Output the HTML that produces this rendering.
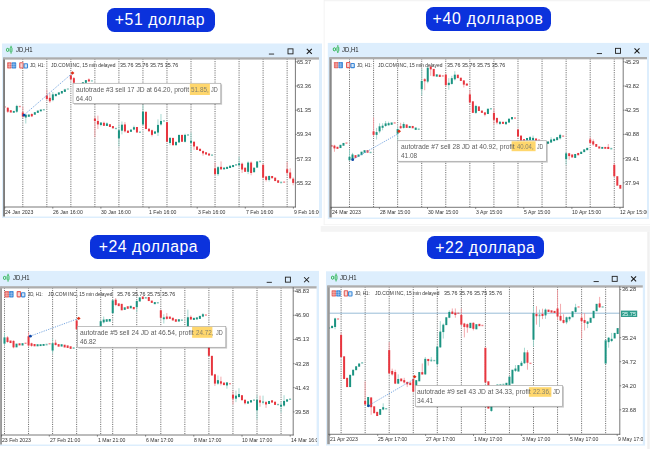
<!DOCTYPE html>
<html><head><meta charset="utf-8"><title>JD trades</title>
<style>
html,body{margin:0;padding:0;background:#fff;}
body{width:650px;height:449px;position:relative;overflow:hidden;font-family:"Liberation Sans",sans-serif;}
svg{position:absolute;left:0;top:0;}
.g{stroke:#3c3c3c;stroke-width:0.75;stroke-dasharray:1.1 1.17;}
.cw{position:absolute;overflow:hidden;will-change:opacity;}
.t{position:absolute;white-space:nowrap;font-size:20px;line-height:23px;transform-origin:0 0;font-family:"Liberation Sans",sans-serif;}
.b{position:absolute;box-sizing:border-box;background:#0b32dc;color:#fff;border-radius:7.5px;text-align:left;white-space:nowrap;font-size:15.8px;font-family:"Liberation Sans",sans-serif;}
</style></head><body>
<svg width="650" height="449" viewBox="0 0 650 449">
<rect x="2" y="43.5" width="320" height="174.5" fill="#ddeefd"/>
<rect x="3.1" y="57.8" width="315.9" height="158.7" fill="#fff"/>
<clipPath id="cp0"><rect x="3.1" y="57.8" width="292.29999999999995" height="149.2"/></clipPath>
<g clip-path="url(#cp0)">
<line x1="22.80" y1="58.8" x2="22.80" y2="207" class="g"/>
<line x1="46.83" y1="58.8" x2="46.83" y2="207" class="g"/>
<line x1="70.86" y1="58.8" x2="70.86" y2="207" class="g"/>
<line x1="94.89" y1="58.8" x2="94.89" y2="207" class="g"/>
<line x1="118.92" y1="58.8" x2="118.92" y2="207" class="g"/>
<line x1="142.95" y1="58.8" x2="142.95" y2="207" class="g"/>
<line x1="166.98" y1="58.8" x2="166.98" y2="207" class="g"/>
<line x1="191.01" y1="58.8" x2="191.01" y2="207" class="g"/>
<line x1="215.04" y1="58.8" x2="215.04" y2="207" class="g"/>
<line x1="239.07" y1="58.8" x2="239.07" y2="207" class="g"/>
<line x1="263.10" y1="58.8" x2="263.10" y2="207" class="g"/>
<line x1="287.13" y1="58.8" x2="287.13" y2="207" class="g"/>
<rect x="3.78" y="106.27" width="2.0" height="1.39" fill="#e7363f" opacity="0.6"/>
<line x1="7.78" y1="107.08" x2="7.78" y2="112.87" stroke="#f09398" stroke-width="0.8"/>
<rect x="6.78" y="107.78" width="2.0" height="3.94" fill="#e7363f" opacity="1"/>
<rect x="9.78" y="110.21" width="2.0" height="2.32" fill="#e7363f" opacity="1"/>
<rect x="12.79" y="110.90" width="2.0" height="1.86" fill="#1b9381" opacity="1"/>
<line x1="16.79" y1="104.77" x2="16.79" y2="112.87" stroke="#8fcfc5" stroke-width="0.8"/>
<rect x="15.79" y="105.93" width="2.0" height="5.79" fill="#1b9381" opacity="1"/>
<rect x="18.80" y="105.81" width="2.0" height="1.39" fill="#e7363f" opacity="0.6"/>
<line x1="22.80" y1="106.62" x2="22.80" y2="117.96" stroke="#f09398" stroke-width="0.8"/>
<rect x="21.80" y="112.41" width="2.0" height="4.17" fill="#e7363f" opacity="1"/>
<line x1="25.80" y1="114.03" x2="25.80" y2="123.52" stroke="#8fcfc5" stroke-width="0.8"/>
<rect x="24.80" y="114.72" width="2.0" height="2.78" fill="#1b9381" opacity="1"/>
<rect x="27.81" y="114.49" width="2.0" height="2.31" fill="#1b9381" opacity="1"/>
<line x1="31.81" y1="113.33" x2="31.81" y2="117.04" stroke="#f09398" stroke-width="0.8"/>
<rect x="30.81" y="114.03" width="2.0" height="2.31" fill="#e7363f" opacity="1"/>
<rect x="33.82" y="112.18" width="2.0" height="2.55" fill="#1b9381" opacity="1"/>
<rect x="36.82" y="110.56" width="2.0" height="2.31" fill="#1b9381" opacity="1"/>
<rect x="39.82" y="109.51" width="2.0" height="1.86" fill="#1b9381" opacity="1"/>
<rect x="42.83" y="109.05" width="2.0" height="1.39" fill="#1b9381" opacity="0.6"/>
<line x1="46.83" y1="89.72" x2="46.83" y2="100.14" stroke="#f09398" stroke-width="0.8"/>
<rect x="45.83" y="95.51" width="2.0" height="3.47" fill="#e7363f" opacity="1"/>
<line x1="49.84" y1="93.19" x2="49.84" y2="102.92" stroke="#f09398" stroke-width="0.8"/>
<rect x="48.84" y="97.82" width="2.0" height="3.47" fill="#e7363f" opacity="1"/>
<line x1="52.84" y1="92.04" x2="52.84" y2="101.30" stroke="#8fcfc5" stroke-width="0.8"/>
<rect x="51.84" y="94.35" width="2.0" height="5.79" fill="#1b9381" opacity="1"/>
<rect x="54.84" y="93.89" width="2.0" height="2.31" fill="#1b9381" opacity="1"/>
<rect x="57.85" y="92.38" width="2.0" height="2.32" fill="#1b9381" opacity="1"/>
<rect x="60.85" y="90.99" width="2.0" height="2.55" fill="#1b9381" opacity="1"/>
<rect x="63.86" y="89.84" width="2.0" height="2.09" fill="#1b9381" opacity="1"/>
<rect x="63.86" y="88.91" width="2.0" height="1.63" fill="#1b9381" opacity="0.6"/>
<rect x="66.86" y="88.45" width="2.0" height="1.16" fill="#1b9381" opacity="0.6"/>
<line x1="70.86" y1="74.68" x2="70.86" y2="80.46" stroke="#f09398" stroke-width="0.8"/>
<rect x="69.86" y="75.37" width="2.0" height="3.94" fill="#e7363f" opacity="1"/>
<line x1="73.87" y1="76.99" x2="73.87" y2="83.94" stroke="#f09398" stroke-width="0.8"/>
<rect x="72.87" y="78.15" width="2.0" height="4.63" fill="#e7363f" opacity="1"/>
<rect x="81.88" y="82.20" width="2.0" height="1.86" fill="#1b9381" opacity="1"/>
<rect x="84.88" y="80.11" width="2.0" height="2.78" fill="#1b9381" opacity="1"/>
<line x1="88.89" y1="78.38" x2="88.89" y2="81.16" stroke="#f09398" stroke-width="0.8"/>
<rect x="87.89" y="79.42" width="2.0" height="2.09" fill="#e7363f" opacity="1"/>
<rect x="90.89" y="80.34" width="2.0" height="1.16" fill="#1b9381" opacity="0.6"/>
<line x1="94.90" y1="116.34" x2="94.90" y2="137.18" stroke="#f09398" stroke-width="0.8"/>
<rect x="93.90" y="118.66" width="2.0" height="2.31" fill="#e7363f" opacity="1"/>
<line x1="97.90" y1="115.65" x2="97.90" y2="129.07" stroke="#f09398" stroke-width="0.8"/>
<rect x="96.90" y="120.97" width="2.0" height="3.47" fill="#e7363f" opacity="1"/>
<line x1="100.90" y1="122.82" x2="100.90" y2="126.30" stroke="#8fcfc5" stroke-width="0.8"/>
<rect x="99.90" y="122.47" width="2.0" height="2.55" fill="#1b9381" opacity="1"/>
<line x1="103.91" y1="121.67" x2="103.91" y2="125.83" stroke="#f09398" stroke-width="0.8"/>
<rect x="102.91" y="122.82" width="2.0" height="3.01" fill="#e7363f" opacity="1"/>
<line x1="106.91" y1="122.36" x2="106.91" y2="125.60" stroke="#8fcfc5" stroke-width="0.8"/>
<rect x="105.91" y="123.40" width="2.0" height="2.55" fill="#1b9381" opacity="1"/>
<rect x="108.92" y="124.21" width="2.0" height="2.78" fill="#e7363f" opacity="1"/>
<rect x="111.92" y="126.06" width="2.0" height="2.31" fill="#e7363f" opacity="1"/>
<rect x="114.92" y="127.80" width="2.0" height="1.39" fill="#1b9381" opacity="0.6"/>
<line x1="118.93" y1="124.44" x2="118.93" y2="146.44" stroke="#8fcfc5" stroke-width="0.8"/>
<rect x="117.93" y="130.23" width="2.0" height="8.10" fill="#1b9381" opacity="1"/>
<line x1="121.93" y1="121.44" x2="121.93" y2="134.40" stroke="#8fcfc5" stroke-width="0.8"/>
<rect x="120.93" y="124.68" width="2.0" height="6.02" fill="#1b9381" opacity="1"/>
<line x1="124.94" y1="122.13" x2="124.94" y2="132.55" stroke="#f09398" stroke-width="0.8"/>
<rect x="123.94" y="124.44" width="2.0" height="6.94" fill="#e7363f" opacity="1"/>
<rect x="126.94" y="130.58" width="2.0" height="2.32" fill="#e7363f" opacity="1"/>
<rect x="129.94" y="129.54" width="2.0" height="2.31" fill="#1b9381" opacity="1"/>
<line x1="133.95" y1="125.60" x2="133.95" y2="130.23" stroke="#8fcfc5" stroke-width="0.8"/>
<rect x="132.95" y="127.22" width="2.0" height="2.31" fill="#1b9381" opacity="1"/>
<rect x="135.95" y="126.99" width="2.0" height="5.56" fill="#e7363f" opacity="1"/>
<rect x="138.96" y="131.50" width="2.0" height="1.39" fill="#1b9381" opacity="0.6"/>
<line x1="142.96" y1="104.77" x2="142.96" y2="125.60" stroke="#8fcfc5" stroke-width="0.8"/>
<rect x="141.96" y="111.71" width="2.0" height="12.73" fill="#1b9381" opacity="1"/>
<rect x="144.96" y="111.71" width="2.0" height="17.36" fill="#e7363f" opacity="1"/>
<rect x="147.97" y="128.61" width="2.0" height="2.78" fill="#e7363f" opacity="1"/>
<line x1="151.97" y1="129.54" x2="151.97" y2="136.48" stroke="#f09398" stroke-width="0.8"/>
<rect x="150.97" y="130.23" width="2.0" height="4.63" fill="#e7363f" opacity="1"/>
<rect x="153.98" y="131.39" width="2.0" height="2.31" fill="#1b9381" opacity="1"/>
<line x1="157.98" y1="119.35" x2="157.98" y2="136.02" stroke="#8fcfc5" stroke-width="0.8"/>
<rect x="156.98" y="124.91" width="2.0" height="7.64" fill="#1b9381" opacity="1"/>
<line x1="160.98" y1="114.03" x2="160.98" y2="125.60" stroke="#8fcfc5" stroke-width="0.8"/>
<rect x="159.98" y="120.97" width="2.0" height="3.47" fill="#1b9381" opacity="1"/>
<rect x="162.99" y="120.39" width="2.0" height="1.16" fill="#1b9381" opacity="0.6"/>
<rect x="165.99" y="122.13" width="2.0" height="19.68" fill="#e7363f" opacity="1"/>
<line x1="170.00" y1="137.18" x2="170.00" y2="145.28" stroke="#8fcfc5" stroke-width="0.8"/>
<rect x="169.00" y="137.87" width="2.0" height="5.09" fill="#1b9381" opacity="1"/>
<rect x="172.00" y="137.87" width="2.0" height="7.41" fill="#e7363f" opacity="1"/>
<rect x="175.00" y="141.81" width="2.0" height="3.47" fill="#1b9381" opacity="1"/>
<rect x="178.01" y="134.86" width="2.0" height="7.64" fill="#1b9381" opacity="1"/>
<rect x="181.01" y="134.86" width="2.0" height="6.94" fill="#e7363f" opacity="1"/>
<line x1="185.02" y1="133.70" x2="185.02" y2="142.50" stroke="#8fcfc5" stroke-width="0.8"/>
<rect x="184.02" y="134.86" width="2.0" height="6.94" fill="#1b9381" opacity="1"/>
<rect x="187.02" y="134.28" width="2.0" height="1.39" fill="#1b9381" opacity="0.6"/>
<line x1="191.02" y1="132.55" x2="191.02" y2="152.22" stroke="#8fcfc5" stroke-width="0.8"/>
<rect x="190.02" y="140.76" width="2.0" height="2.09" fill="#1b9381" opacity="1"/>
<line x1="194.03" y1="141.11" x2="194.03" y2="149.91" stroke="#f09398" stroke-width="0.8"/>
<rect x="193.03" y="141.81" width="2.0" height="4.63" fill="#e7363f" opacity="1"/>
<rect x="196.03" y="146.44" width="2.0" height="3.47" fill="#e7363f" opacity="1"/>
<rect x="199.04" y="148.75" width="2.0" height="2.31" fill="#e7363f" opacity="1"/>
<line x1="203.04" y1="150.37" x2="203.04" y2="155.69" stroke="#f09398" stroke-width="0.8"/>
<rect x="202.04" y="151.06" width="2.0" height="2.31" fill="#e7363f" opacity="1"/>
<rect x="205.04" y="152.22" width="2.0" height="2.31" fill="#e7363f" opacity="1"/>
<rect x="208.05" y="153.49" width="2.0" height="2.09" fill="#e7363f" opacity="1"/>
<rect x="211.05" y="154.42" width="2.0" height="1.39" fill="#1b9381" opacity="0.6"/>
<line x1="215.06" y1="162.56" x2="215.06" y2="175.29" stroke="#f09398" stroke-width="0.8"/>
<rect x="214.06" y="168.34" width="2.0" height="5.79" fill="#e7363f" opacity="1"/>
<line x1="218.06" y1="166.03" x2="218.06" y2="175.98" stroke="#8fcfc5" stroke-width="0.8"/>
<rect x="217.06" y="167.19" width="2.0" height="6.94" fill="#1b9381" opacity="1"/>
<line x1="221.06" y1="161.40" x2="221.06" y2="169.50" stroke="#f09398" stroke-width="0.8"/>
<rect x="220.06" y="166.84" width="2.0" height="2.55" fill="#e7363f" opacity="1"/>
<rect x="223.07" y="167.53" width="2.0" height="1.86" fill="#1b9381" opacity="1"/>
<rect x="226.07" y="166.84" width="2.0" height="2.09" fill="#1b9381" opacity="1"/>
<rect x="229.08" y="165.68" width="2.0" height="2.32" fill="#1b9381" opacity="1"/>
<rect x="232.08" y="164.98" width="2.0" height="2.09" fill="#1b9381" opacity="1"/>
<rect x="235.08" y="164.06" width="2.0" height="1.63" fill="#1b9381" opacity="0.6"/>
<line x1="239.09" y1="156.77" x2="239.09" y2="165.33" stroke="#8fcfc5" stroke-width="0.8"/>
<rect x="238.09" y="163.36" width="2.0" height="1.86" fill="#1b9381" opacity="1"/>
<line x1="242.09" y1="162.56" x2="242.09" y2="172.97" stroke="#f09398" stroke-width="0.8"/>
<rect x="241.09" y="163.71" width="2.0" height="5.79" fill="#e7363f" opacity="1"/>
<rect x="244.10" y="167.65" width="2.0" height="4.17" fill="#e7363f" opacity="1"/>
<line x1="248.10" y1="161.40" x2="248.10" y2="174.13" stroke="#8fcfc5" stroke-width="0.8"/>
<rect x="247.10" y="162.56" width="2.0" height="9.26" fill="#1b9381" opacity="1"/>
<line x1="251.10" y1="161.40" x2="251.10" y2="175.29" stroke="#f09398" stroke-width="0.8"/>
<rect x="250.10" y="162.56" width="2.0" height="10.42" fill="#e7363f" opacity="1"/>
<rect x="253.11" y="167.65" width="2.0" height="4.63" fill="#1b9381" opacity="1"/>
<rect x="256.11" y="161.40" width="2.0" height="6.25" fill="#1b9381" opacity="1"/>
<rect x="259.12" y="160.82" width="2.0" height="1.39" fill="#1b9381" opacity="0.6"/>
<line x1="263.12" y1="163.71" x2="263.12" y2="178.76" stroke="#f09398" stroke-width="0.8"/>
<rect x="262.12" y="164.87" width="2.0" height="12.73" fill="#e7363f" opacity="1"/>
<line x1="266.12" y1="175.98" x2="266.12" y2="181.54" stroke="#f09398" stroke-width="0.8"/>
<rect x="265.12" y="176.44" width="2.0" height="3.47" fill="#e7363f" opacity="1"/>
<line x1="269.13" y1="175.52" x2="269.13" y2="181.54" stroke="#8fcfc5" stroke-width="0.8"/>
<rect x="268.13" y="175.98" width="2.0" height="3.94" fill="#1b9381" opacity="1"/>
<rect x="271.13" y="175.98" width="2.0" height="2.31" fill="#e7363f" opacity="1"/>
<rect x="274.14" y="177.60" width="2.0" height="3.47" fill="#e7363f" opacity="1"/>
<rect x="277.14" y="180.26" width="2.0" height="2.55" fill="#e7363f" opacity="1"/>
<rect x="280.14" y="181.65" width="2.0" height="1.63" fill="#1b9381" opacity="0.6"/>
<rect x="283.15" y="181.42" width="2.0" height="1.39" fill="#e7363f" opacity="0.6"/>
<line x1="287.15" y1="161.90" x2="287.15" y2="174.67" stroke="#f09398" stroke-width="0.8"/>
<rect x="286.15" y="169.20" width="2.0" height="3.65" fill="#e7363f" opacity="1"/>
<line x1="290.16" y1="168.28" x2="290.16" y2="179.23" stroke="#f09398" stroke-width="0.8"/>
<rect x="289.16" y="172.48" width="2.0" height="5.84" fill="#e7363f" opacity="1"/>
<line x1="293.16" y1="177.41" x2="293.16" y2="185.26" stroke="#f09398" stroke-width="0.8"/>
<rect x="292.16" y="178.69" width="2.0" height="4.20" fill="#e7363f" opacity="1"/>
<line x1="23.8" y1="115.2" x2="72.5" y2="73" stroke="#5590d8" stroke-width="0.8" stroke-dasharray="1.2 1.2"/>
<circle cx="24.1" cy="115.2" r="1.4" fill="#0d47a8"/>
<path d="M70.6 73 L72.5 71.3 L74.4 73 L72.5 74.7Z" fill="#e02d14"/>
</g>
<rect x="3.1" y="57.8" width="1.9" height="158.7" fill="#7c7c7c"/>
<rect x="3.1" y="57.3" width="315.9" height="2.3" fill="#adadad"/>
<line x1="295.4" y1="58.3" x2="295.4" y2="207.4" stroke="#555" stroke-width="0.8"/>
<line x1="4.1" y1="207" x2="295.79999999999995" y2="207" stroke="#555" stroke-width="0.8"/>
<line x1="295.4" y1="61.8" x2="296.79999999999995" y2="61.8" stroke="#555" stroke-width="0.7"/>
<line x1="295.4" y1="86" x2="296.79999999999995" y2="86" stroke="#555" stroke-width="0.7"/>
<line x1="295.4" y1="110.2" x2="296.79999999999995" y2="110.2" stroke="#555" stroke-width="0.7"/>
<line x1="295.4" y1="134.4" x2="296.79999999999995" y2="134.4" stroke="#555" stroke-width="0.7"/>
<line x1="295.4" y1="158.6" x2="296.79999999999995" y2="158.6" stroke="#555" stroke-width="0.7"/>
<line x1="295.4" y1="182.8" x2="296.79999999999995" y2="182.8" stroke="#555" stroke-width="0.7"/>
<line x1="4.8" y1="207" x2="4.8" y2="208.6" stroke="#555" stroke-width="0.7"/>
<line x1="52.8" y1="207" x2="52.8" y2="208.6" stroke="#555" stroke-width="0.7"/>
<line x1="100.9" y1="207" x2="100.9" y2="208.6" stroke="#555" stroke-width="0.7"/>
<line x1="149.0" y1="207" x2="149.0" y2="208.6" stroke="#555" stroke-width="0.7"/>
<line x1="197.2" y1="207" x2="197.2" y2="208.6" stroke="#555" stroke-width="0.7"/>
<line x1="245.3" y1="207" x2="245.3" y2="208.6" stroke="#555" stroke-width="0.7"/>
<line x1="293.4" y1="207" x2="293.4" y2="208.6" stroke="#555" stroke-width="0.7"/>
<rect x="74.0" y="84.3" width="148.10000000000002" height="20.40000000000001" fill="#000" opacity="0.22"/>
<rect x="73" y="83.3" width="147.8" height="20.10000000000001" fill="#fff" stroke="#a6a6a6" stroke-width="0.7"/>
<rect x="189.85" y="83.7" width="20.05000000000001" height="11.299999999999997" fill="#ffd76d"/>
<g stroke="#22b24a" fill="none"><rect x="6.5" y="48.4" width="2.2" height="3.0" rx="1.0" stroke-width="1.0"/><rect x="10.15" y="47.45" width="1.8" height="4.6" rx="0.8" stroke-width="0.9"/><line x1="11.05" y1="45.8" x2="11.05" y2="47.1" stroke-width="1.0"/><line x1="11.05" y1="52.4" x2="11.05" y2="53.6" stroke-width="1.0"/></g>
<line x1="268.9" y1="54.050000000000004" x2="274.1" y2="54.050000000000004" stroke="#222" stroke-width="0.9"/>
<rect x="288.0" y="48.85" width="5" height="5" fill="none" stroke="#222" stroke-width="0.9"/>
<path d="M306.8 48.95 L311.8 53.95 M311.8 48.95 L306.8 53.95" stroke="#1a1a1a" stroke-width="1.05" fill="none"/>
<rect x="7.1" y="62.199999999999996" width="4.55" height="6.3" fill="#e76d69" rx="0.7"/><rect x="11.649999999999999" y="62.199999999999996" width="4.55" height="6.3" fill="#3f8bd9" rx="0.7"/><path d="M7.699999999999999 64.39999999999999 H15.6 M7.699999999999999 66.39999999999999 H15.6 M9.399999999999999 62.8 V67.89999999999999 M13.899999999999999 62.8 V67.89999999999999" stroke="#fff" stroke-width="0.55" opacity="0.55" fill="none"/>
<rect x="19.750000000000004" y="62.74999999999999" width="3.4" height="5.2" fill="#f9d5d3" stroke="#e35f5a" stroke-width="1.1" rx="0.5"/><rect x="24.1" y="63.8" width="3.4" height="4.15" fill="#d3e6f9" stroke="#3a88d8" stroke-width="1.1" rx="0.5"/>
<rect x="327.8" y="42.9" width="321.2" height="176.1" fill="#ddeefd"/>
<rect x="329.4" y="57.5" width="317.6" height="160.0" fill="#fff"/>
<clipPath id="cp1"><rect x="329.4" y="57.5" width="293.80000000000007" height="149.8"/></clipPath>
<g clip-path="url(#cp1)">
<line x1="349.50" y1="58.5" x2="349.50" y2="207.3" class="g"/>
<line x1="373.57" y1="58.5" x2="373.57" y2="207.3" class="g"/>
<line x1="397.64" y1="58.5" x2="397.64" y2="207.3" class="g"/>
<line x1="421.71" y1="58.5" x2="421.71" y2="207.3" class="g"/>
<line x1="445.78" y1="58.5" x2="445.78" y2="207.3" class="g"/>
<line x1="469.85" y1="58.5" x2="469.85" y2="207.3" class="g"/>
<line x1="493.92" y1="58.5" x2="493.92" y2="207.3" class="g"/>
<line x1="517.99" y1="58.5" x2="517.99" y2="207.3" class="g"/>
<line x1="542.06" y1="58.5" x2="542.06" y2="207.3" class="g"/>
<line x1="566.13" y1="58.5" x2="566.13" y2="207.3" class="g"/>
<line x1="590.20" y1="58.5" x2="590.20" y2="207.3" class="g"/>
<line x1="614.27" y1="58.5" x2="614.27" y2="207.3" class="g"/>
<rect x="330.45" y="144.93" width="2.0" height="1.86" fill="#e7363f" opacity="1"/>
<line x1="334.45" y1="144.81" x2="334.45" y2="151.76" stroke="#f09398" stroke-width="0.8"/>
<rect x="333.45" y="145.62" width="2.0" height="2.78" fill="#e7363f" opacity="1"/>
<rect x="336.46" y="146.78" width="2.0" height="2.09" fill="#e7363f" opacity="1"/>
<rect x="339.47" y="144.81" width="2.0" height="3.24" fill="#1b9381" opacity="1"/>
<rect x="342.48" y="142.96" width="2.0" height="2.78" fill="#1b9381" opacity="1"/>
<rect x="345.49" y="142.38" width="2.0" height="1.39" fill="#e7363f" opacity="0.6"/>
<line x1="373.57" y1="117.50" x2="373.57" y2="136.02" stroke="#f09398" stroke-width="0.8"/>
<rect x="372.57" y="131.39" width="2.0" height="3.47" fill="#e7363f" opacity="1"/>
<line x1="376.58" y1="127.92" x2="376.58" y2="139.49" stroke="#8fcfc5" stroke-width="0.8"/>
<rect x="375.58" y="132.08" width="2.0" height="2.78" fill="#1b9381" opacity="1"/>
<line x1="379.59" y1="123.29" x2="379.59" y2="133.24" stroke="#8fcfc5" stroke-width="0.8"/>
<rect x="378.59" y="126.30" width="2.0" height="5.09" fill="#1b9381" opacity="1"/>
<line x1="382.60" y1="123.29" x2="382.60" y2="130.23" stroke="#8fcfc5" stroke-width="0.8"/>
<rect x="381.60" y="125.71" width="2.0" height="2.09" fill="#1b9381" opacity="1"/>
<line x1="385.61" y1="120.97" x2="385.61" y2="126.76" stroke="#8fcfc5" stroke-width="0.8"/>
<rect x="384.61" y="123.40" width="2.0" height="2.55" fill="#1b9381" opacity="1"/>
<line x1="388.62" y1="121.67" x2="388.62" y2="125.60" stroke="#8fcfc5" stroke-width="0.8"/>
<rect x="387.62" y="123.17" width="2.0" height="2.09" fill="#1b9381" opacity="1"/>
<rect x="390.63" y="122.47" width="2.0" height="2.32" fill="#1b9381" opacity="1"/>
<rect x="393.63" y="122.24" width="2.0" height="1.39" fill="#e7363f" opacity="0.6"/>
<line x1="397.64" y1="126.76" x2="397.64" y2="140.65" stroke="#8fcfc5" stroke-width="0.8"/>
<rect x="396.64" y="129.07" width="2.0" height="4.63" fill="#1b9381" opacity="1"/>
<line x1="400.65" y1="122.82" x2="400.65" y2="128.61" stroke="#f09398" stroke-width="0.8"/>
<rect x="399.65" y="126.18" width="2.0" height="2.09" fill="#e7363f" opacity="1"/>
<line x1="403.66" y1="122.13" x2="403.66" y2="128.61" stroke="#8fcfc5" stroke-width="0.8"/>
<rect x="402.66" y="123.98" width="2.0" height="3.94" fill="#1b9381" opacity="1"/>
<rect x="405.67" y="124.44" width="2.0" height="3.47" fill="#e7363f" opacity="1"/>
<rect x="408.68" y="125.95" width="2.0" height="2.09" fill="#1b9381" opacity="1"/>
<rect x="411.69" y="125.95" width="2.0" height="2.32" fill="#e7363f" opacity="1"/>
<rect x="414.70" y="127.57" width="2.0" height="2.32" fill="#1b9381" opacity="1"/>
<rect x="417.71" y="128.49" width="2.0" height="1.39" fill="#1b9381" opacity="0.6"/>
<line x1="421.72" y1="68.89" x2="421.72" y2="95.51" stroke="#8fcfc5" stroke-width="0.8"/>
<rect x="420.72" y="80.93" width="2.0" height="8.33" fill="#1b9381" opacity="1"/>
<line x1="424.73" y1="78.15" x2="424.73" y2="90.19" stroke="#f09398" stroke-width="0.8"/>
<rect x="423.73" y="79.19" width="2.0" height="2.09" fill="#e7363f" opacity="1"/>
<line x1="427.73" y1="66.57" x2="427.73" y2="83.24" stroke="#8fcfc5" stroke-width="0.8"/>
<rect x="426.73" y="67.73" width="2.0" height="13.89" fill="#1b9381" opacity="1"/>
<line x1="430.74" y1="65.42" x2="430.74" y2="75.83" stroke="#f09398" stroke-width="0.8"/>
<rect x="429.74" y="66.57" width="2.0" height="2.78" fill="#e7363f" opacity="1"/>
<rect x="432.75" y="68.89" width="2.0" height="7.41" fill="#e7363f" opacity="1"/>
<rect x="435.76" y="74.33" width="2.0" height="2.32" fill="#1b9381" opacity="1"/>
<rect x="438.77" y="74.68" width="2.0" height="2.31" fill="#e7363f" opacity="1"/>
<rect x="441.78" y="75.25" width="2.0" height="1.39" fill="#e7363f" opacity="0.6"/>
<line x1="445.79" y1="73.52" x2="445.79" y2="86.25" stroke="#f09398" stroke-width="0.8"/>
<rect x="444.79" y="74.68" width="2.0" height="10.42" fill="#e7363f" opacity="1"/>
<line x1="448.80" y1="78.15" x2="448.80" y2="89.72" stroke="#8fcfc5" stroke-width="0.8"/>
<rect x="447.80" y="82.78" width="2.0" height="2.31" fill="#1b9381" opacity="1"/>
<line x1="451.81" y1="75.83" x2="451.81" y2="84.63" stroke="#8fcfc5" stroke-width="0.8"/>
<rect x="450.81" y="78.15" width="2.0" height="5.79" fill="#1b9381" opacity="1"/>
<line x1="454.81" y1="71.20" x2="454.81" y2="80.46" stroke="#8fcfc5" stroke-width="0.8"/>
<rect x="453.81" y="74.68" width="2.0" height="4.63" fill="#1b9381" opacity="1"/>
<rect x="456.82" y="74.68" width="2.0" height="3.47" fill="#e7363f" opacity="1"/>
<rect x="459.83" y="77.69" width="2.0" height="3.24" fill="#e7363f" opacity="1"/>
<line x1="463.84" y1="80.00" x2="463.84" y2="87.41" stroke="#f09398" stroke-width="0.8"/>
<rect x="462.84" y="80.46" width="2.0" height="4.17" fill="#e7363f" opacity="1"/>
<rect x="465.85" y="83.59" width="2.0" height="1.86" fill="#e7363f" opacity="1"/>
<line x1="349.50" y1="149.82" x2="349.50" y2="160.70" stroke="#8fcfc5" stroke-width="0.8"/>
<rect x="348.50" y="156.77" width="2.0" height="3.47" fill="#1b9381" opacity="1"/>
<line x1="352.51" y1="152.83" x2="352.51" y2="160.24" stroke="#8fcfc5" stroke-width="0.8"/>
<rect x="351.51" y="154.45" width="2.0" height="5.32" fill="#1b9381" opacity="1"/>
<rect x="354.52" y="155.15" width="2.0" height="2.78" fill="#e7363f" opacity="1"/>
<rect x="357.53" y="154.45" width="2.0" height="2.31" fill="#1b9381" opacity="1"/>
<rect x="360.54" y="151.68" width="2.0" height="3.47" fill="#1b9381" opacity="1"/>
<rect x="363.55" y="150.17" width="2.0" height="2.55" fill="#1b9381" opacity="1"/>
<rect x="366.55" y="150.17" width="2.0" height="2.55" fill="#e7363f" opacity="1"/>
<rect x="369.56" y="151.79" width="2.0" height="1.39" fill="#1b9381" opacity="0.6"/>
<rect x="465.85" y="83.82" width="2.0" height="1.63" fill="#e7363f" opacity="0.6"/>
<line x1="469.86" y1="89.72" x2="469.86" y2="103.61" stroke="#f09398" stroke-width="0.8"/>
<rect x="468.86" y="94.35" width="2.0" height="8.10" fill="#e7363f" opacity="1"/>
<rect x="471.87" y="101.30" width="2.0" height="11.57" fill="#e7363f" opacity="1"/>
<line x1="475.88" y1="104.77" x2="475.88" y2="114.03" stroke="#8fcfc5" stroke-width="0.8"/>
<rect x="474.88" y="105.93" width="2.0" height="6.94" fill="#1b9381" opacity="1"/>
<rect x="477.89" y="106.39" width="2.0" height="4.63" fill="#e7363f" opacity="1"/>
<rect x="480.90" y="110.56" width="2.0" height="2.31" fill="#e7363f" opacity="1"/>
<line x1="484.90" y1="111.94" x2="484.90" y2="116.34" stroke="#f09398" stroke-width="0.8"/>
<rect x="483.90" y="112.41" width="2.0" height="2.31" fill="#e7363f" opacity="1"/>
<rect x="486.91" y="108.70" width="2.0" height="5.32" fill="#1b9381" opacity="1"/>
<rect x="489.92" y="108.12" width="2.0" height="1.39" fill="#1b9381" opacity="0.6"/>
<line x1="493.93" y1="108.24" x2="493.93" y2="124.44" stroke="#f09398" stroke-width="0.8"/>
<rect x="492.93" y="112.87" width="2.0" height="6.94" fill="#e7363f" opacity="1"/>
<line x1="496.94" y1="117.50" x2="496.94" y2="124.44" stroke="#f09398" stroke-width="0.8"/>
<rect x="495.94" y="117.96" width="2.0" height="4.63" fill="#e7363f" opacity="1"/>
<line x1="499.95" y1="120.97" x2="499.95" y2="124.91" stroke="#8fcfc5" stroke-width="0.8"/>
<rect x="498.95" y="121.78" width="2.0" height="2.09" fill="#1b9381" opacity="1"/>
<rect x="501.96" y="121.78" width="2.0" height="2.09" fill="#e7363f" opacity="1"/>
<rect x="504.97" y="121.78" width="2.0" height="2.55" fill="#1b9381" opacity="1"/>
<rect x="507.98" y="118.66" width="2.0" height="3.94" fill="#1b9381" opacity="1"/>
<rect x="510.99" y="117.04" width="2.0" height="2.31" fill="#1b9381" opacity="1"/>
<rect x="514.00" y="117.38" width="2.0" height="1.39" fill="#e7363f" opacity="0.6"/>
<line x1="518.00" y1="128.61" x2="518.00" y2="137.18" stroke="#f09398" stroke-width="0.8"/>
<rect x="517.00" y="129.54" width="2.0" height="6.94" fill="#e7363f" opacity="1"/>
<rect x="520.01" y="135.56" width="2.0" height="5.56" fill="#e7363f" opacity="1"/>
<rect x="523.02" y="139.14" width="2.0" height="2.32" fill="#e7363f" opacity="1"/>
<rect x="526.03" y="137.98" width="2.0" height="2.55" fill="#1b9381" opacity="1"/>
<line x1="530.04" y1="136.02" x2="530.04" y2="140.65" stroke="#8fcfc5" stroke-width="0.8"/>
<rect x="529.04" y="137.18" width="2.0" height="3.01" fill="#1b9381" opacity="1"/>
<line x1="533.05" y1="135.56" x2="533.05" y2="140.65" stroke="#8fcfc5" stroke-width="0.8"/>
<rect x="532.05" y="137.87" width="2.0" height="2.31" fill="#1b9381" opacity="1"/>
<rect x="535.06" y="138.45" width="2.0" height="2.55" fill="#e7363f" opacity="1"/>
<rect x="538.07" y="139.37" width="2.0" height="1.63" fill="#e7363f" opacity="0.6"/>
<rect x="547.09" y="141.46" width="2.0" height="2.32" fill="#1b9381" opacity="1"/>
<line x1="551.10" y1="137.18" x2="551.10" y2="142.96" stroke="#8fcfc5" stroke-width="0.8"/>
<rect x="550.10" y="139.49" width="2.0" height="3.01" fill="#1b9381" opacity="1"/>
<rect x="553.11" y="138.80" width="2.0" height="2.31" fill="#1b9381" opacity="1"/>
<rect x="556.12" y="137.18" width="2.0" height="3.01" fill="#1b9381" opacity="1"/>
<line x1="560.13" y1="133.70" x2="560.13" y2="139.49" stroke="#8fcfc5" stroke-width="0.8"/>
<rect x="559.13" y="134.86" width="2.0" height="3.47" fill="#1b9381" opacity="1"/>
<rect x="562.14" y="135.44" width="2.0" height="1.39" fill="#e7363f" opacity="0.6"/>
<line x1="566.15" y1="152.14" x2="566.15" y2="164.87" stroke="#8fcfc5" stroke-width="0.8"/>
<rect x="565.15" y="153.30" width="2.0" height="5.79" fill="#1b9381" opacity="1"/>
<line x1="569.16" y1="152.83" x2="569.16" y2="159.78" stroke="#f09398" stroke-width="0.8"/>
<rect x="568.16" y="153.30" width="2.0" height="2.78" fill="#e7363f" opacity="1"/>
<rect x="571.17" y="154.45" width="2.0" height="3.01" fill="#e7363f" opacity="1"/>
<rect x="574.17" y="153.99" width="2.0" height="3.94" fill="#1b9381" opacity="1"/>
<rect x="577.18" y="152.95" width="2.0" height="2.32" fill="#e7363f" opacity="1"/>
<rect x="580.19" y="151.68" width="2.0" height="2.31" fill="#1b9381" opacity="1"/>
<rect x="583.20" y="149.36" width="2.0" height="2.78" fill="#1b9381" opacity="1"/>
<rect x="586.21" y="147.85" width="2.0" height="2.32" fill="#1b9381" opacity="1"/>
<line x1="590.22" y1="137.09" x2="590.22" y2="144.04" stroke="#f09398" stroke-width="0.8"/>
<rect x="589.22" y="139.41" width="2.0" height="3.47" fill="#e7363f" opacity="1"/>
<line x1="593.23" y1="139.41" x2="593.23" y2="145.89" stroke="#f09398" stroke-width="0.8"/>
<rect x="592.23" y="141.26" width="2.0" height="3.24" fill="#e7363f" opacity="1"/>
<rect x="595.24" y="144.04" width="2.0" height="2.78" fill="#e7363f" opacity="1"/>
<rect x="598.25" y="146.46" width="2.0" height="2.09" fill="#e7363f" opacity="1"/>
<rect x="601.26" y="146.93" width="2.0" height="1.86" fill="#1b9381" opacity="1"/>
<rect x="604.26" y="146.93" width="2.0" height="1.86" fill="#e7363f" opacity="1"/>
<line x1="608.27" y1="144.04" x2="608.27" y2="148.90" stroke="#f09398" stroke-width="0.8"/>
<rect x="607.27" y="146.93" width="2.0" height="2.09" fill="#e7363f" opacity="1"/>
<rect x="610.28" y="147.85" width="2.0" height="1.63" fill="#1b9381" opacity="0.6"/>
<line x1="614.29" y1="162.95" x2="614.29" y2="176.97" stroke="#f09398" stroke-width="0.8"/>
<rect x="613.29" y="164.85" width="2.0" height="11.36" fill="#e7363f" opacity="1"/>
<rect x="616.30" y="176.21" width="2.0" height="9.47" fill="#e7363f" opacity="1"/>
<rect x="619.31" y="184.92" width="2.0" height="3.79" fill="#e7363f" opacity="1"/>
<line x1="352.4" y1="159.7" x2="398.3" y2="133.7" stroke="#5590d8" stroke-width="0.8" stroke-dasharray="1.2 1.2"/>
<circle cx="352.7" cy="159.7" r="1.4" fill="#0d47a8"/>
<path d="M397.20000000000005 131.3 L399.1 129.60000000000002 L401.0 131.3 L399.1 133.0Z" fill="#e02d14"/>
</g>
<rect x="329.4" y="57.5" width="2.3" height="160.0" fill="#888"/>
<rect x="329.4" y="57.0" width="317.6" height="2.3" fill="#adadad"/>
<line x1="623.2" y1="58.0" x2="623.2" y2="207.70000000000002" stroke="#555" stroke-width="0.8"/>
<line x1="330.4" y1="207.3" x2="623.6" y2="207.3" stroke="#555" stroke-width="0.8"/>
<line x1="623.2" y1="61.8" x2="624.6" y2="61.8" stroke="#555" stroke-width="0.7"/>
<line x1="623.2" y1="86" x2="624.6" y2="86" stroke="#555" stroke-width="0.7"/>
<line x1="623.2" y1="110.2" x2="624.6" y2="110.2" stroke="#555" stroke-width="0.7"/>
<line x1="623.2" y1="134.4" x2="624.6" y2="134.4" stroke="#555" stroke-width="0.7"/>
<line x1="623.2" y1="158.6" x2="624.6" y2="158.6" stroke="#555" stroke-width="0.7"/>
<line x1="623.2" y1="182.8" x2="624.6" y2="182.8" stroke="#555" stroke-width="0.7"/>
<line x1="331.3" y1="207.3" x2="331.3" y2="208.9" stroke="#555" stroke-width="0.7"/>
<line x1="379.4" y1="207.3" x2="379.4" y2="208.9" stroke="#555" stroke-width="0.7"/>
<line x1="427.5" y1="207.3" x2="427.5" y2="208.9" stroke="#555" stroke-width="0.7"/>
<line x1="475.7" y1="207.3" x2="475.7" y2="208.9" stroke="#555" stroke-width="0.7"/>
<line x1="523.8" y1="207.3" x2="523.8" y2="208.9" stroke="#555" stroke-width="0.7"/>
<line x1="571.9" y1="207.3" x2="571.9" y2="208.9" stroke="#555" stroke-width="0.7"/>
<line x1="620.0" y1="207.3" x2="620.0" y2="208.9" stroke="#555" stroke-width="0.7"/>
<rect x="398.7" y="141.7" width="149.10000000000002" height="20.900000000000023" fill="#000" opacity="0.22"/>
<rect x="397.7" y="140.7" width="148.8" height="20.600000000000023" fill="#fff" stroke="#a6a6a6" stroke-width="0.7"/>
<rect x="511.6" y="141.3" width="24.0" height="9.899999999999977" fill="#ffd76d"/>
<g stroke="#22b24a" fill="none"><rect x="333.3" y="47.8" width="2.2" height="3.0" rx="1.0" stroke-width="1.0"/><rect x="336.95" y="46.85" width="1.8" height="4.6" rx="0.8" stroke-width="0.9"/><line x1="337.85" y1="45.199999999999996" x2="337.85" y2="46.5" stroke-width="1.0"/><line x1="337.85" y1="51.8" x2="337.85" y2="53.0" stroke-width="1.0"/></g>
<line x1="596.8" y1="53.550000000000004" x2="602.0" y2="53.550000000000004" stroke="#222" stroke-width="0.9"/>
<rect x="615.5" y="48.35" width="5" height="5" fill="none" stroke="#222" stroke-width="0.9"/>
<path d="M634.5 48.45 L639.5 53.45 M639.5 48.45 L634.5 53.45" stroke="#1a1a1a" stroke-width="1.05" fill="none"/>
<rect x="333.9" y="61.9" width="4.55" height="6.3" fill="#e76d69" rx="0.7"/><rect x="338.45" y="61.9" width="4.55" height="6.3" fill="#3f8bd9" rx="0.7"/><path d="M334.5 64.1 H342.4 M334.5 66.1 H342.4 M336.2 62.5 V67.6 M340.7 62.5 V67.6" stroke="#fff" stroke-width="0.55" opacity="0.55" fill="none"/>
<rect x="346.55" y="62.449999999999996" width="3.4" height="5.2" fill="#f9d5d3" stroke="#e35f5a" stroke-width="1.1" rx="0.5"/><rect x="350.9" y="63.5" width="3.4" height="4.15" fill="#d3e6f9" stroke="#3a88d8" stroke-width="1.1" rx="0.5"/>
<rect x="0" y="270.9" width="319" height="175.10000000000002" fill="#ddeefd"/>
<rect x="0.1" y="286.7" width="316.5" height="157.8" fill="#fff"/>
<clipPath id="cp2"><rect x="0.1" y="286.7" width="293.09999999999997" height="148.3"/></clipPath>
<g clip-path="url(#cp2)">
<line x1="4.50" y1="287.7" x2="4.50" y2="435" class="g"/>
<line x1="28.55" y1="287.7" x2="28.55" y2="435" class="g"/>
<line x1="52.60" y1="287.7" x2="52.60" y2="435" class="g"/>
<line x1="76.65" y1="287.7" x2="76.65" y2="435" class="g"/>
<line x1="100.70" y1="287.7" x2="100.70" y2="435" class="g"/>
<line x1="112.70" y1="287.7" x2="112.70" y2="435" class="g"/>
<line x1="136.75" y1="287.7" x2="136.75" y2="435" class="g"/>
<line x1="160.80" y1="287.7" x2="160.80" y2="435" class="g"/>
<line x1="184.85" y1="287.7" x2="184.85" y2="435" class="g"/>
<line x1="208.90" y1="287.7" x2="208.90" y2="435" class="g"/>
<line x1="232.95" y1="287.7" x2="232.95" y2="435" class="g"/>
<line x1="257.00" y1="287.7" x2="257.00" y2="435" class="g"/>
<line x1="281.05" y1="287.7" x2="281.05" y2="435" class="g"/>
<line x1="4.50" y1="332.77" x2="4.50" y2="345.04" stroke="#8fcfc5" stroke-width="0.8"/>
<rect x="3.50" y="337.40" width="2.0" height="6.25" fill="#1b9381" opacity="1"/>
<line x1="7.51" y1="336.24" x2="7.51" y2="342.72" stroke="#f09398" stroke-width="0.8"/>
<rect x="6.51" y="337.40" width="2.0" height="4.63" fill="#e7363f" opacity="1"/>
<rect x="9.51" y="340.52" width="2.0" height="2.55" fill="#e7363f" opacity="1"/>
<line x1="13.52" y1="340.41" x2="13.52" y2="348.28" stroke="#f09398" stroke-width="0.8"/>
<rect x="12.52" y="340.87" width="2.0" height="6.48" fill="#e7363f" opacity="1"/>
<rect x="15.52" y="343.65" width="2.0" height="3.70" fill="#1b9381" opacity="1"/>
<rect x="18.53" y="343.30" width="2.0" height="2.09" fill="#e7363f" opacity="1"/>
<rect x="21.54" y="343.19" width="2.0" height="2.31" fill="#1b9381" opacity="1"/>
<rect x="24.54" y="342.60" width="2.0" height="1.39" fill="#e7363f" opacity="0.6"/>
<line x1="28.55" y1="332.07" x2="28.55" y2="346.66" stroke="#f09398" stroke-width="0.8"/>
<rect x="27.55" y="336.24" width="2.0" height="9.26" fill="#e7363f" opacity="1"/>
<line x1="31.55" y1="342.72" x2="31.55" y2="346.66" stroke="#f09398" stroke-width="0.8"/>
<rect x="30.55" y="343.30" width="2.0" height="2.55" fill="#e7363f" opacity="1"/>
<rect x="33.56" y="343.99" width="2.0" height="2.32" fill="#e7363f" opacity="1"/>
<rect x="36.57" y="344.22" width="2.0" height="2.09" fill="#1b9381" opacity="1"/>
<rect x="39.57" y="344.22" width="2.0" height="1.86" fill="#1b9381" opacity="1"/>
<rect x="42.58" y="343.99" width="2.0" height="1.86" fill="#1b9381" opacity="1"/>
<rect x="45.58" y="343.76" width="2.0" height="1.63" fill="#1b9381" opacity="0.6"/>
<rect x="48.59" y="343.07" width="2.0" height="1.39" fill="#e7363f" opacity="0.6"/>
<line x1="52.60" y1="338.56" x2="52.60" y2="353.60" stroke="#8fcfc5" stroke-width="0.8"/>
<rect x="51.60" y="343.19" width="2.0" height="7.41" fill="#1b9381" opacity="1"/>
<line x1="55.60" y1="339.71" x2="55.60" y2="345.50" stroke="#f09398" stroke-width="0.8"/>
<rect x="54.60" y="342.72" width="2.0" height="2.31" fill="#e7363f" opacity="1"/>
<rect x="57.61" y="344.11" width="2.0" height="2.55" fill="#e7363f" opacity="1"/>
<rect x="60.61" y="344.22" width="2.0" height="2.32" fill="#1b9381" opacity="1"/>
<rect x="63.62" y="344.69" width="2.0" height="2.78" fill="#e7363f" opacity="1"/>
<rect x="66.63" y="345.38" width="2.0" height="2.55" fill="#e7363f" opacity="1"/>
<rect x="69.63" y="346.31" width="2.0" height="2.55" fill="#e7363f" opacity="1"/>
<rect x="72.64" y="347.23" width="2.0" height="1.63" fill="#1b9381" opacity="0.6"/>
<line x1="76.64" y1="320.04" x2="76.64" y2="329.76" stroke="#f09398" stroke-width="0.8"/>
<rect x="75.64" y="320.50" width="2.0" height="8.80" fill="#e7363f" opacity="1"/>
<line x1="100.69" y1="320.04" x2="100.69" y2="327.44" stroke="#8fcfc5" stroke-width="0.8"/>
<rect x="99.69" y="321.19" width="2.0" height="5.79" fill="#1b9381" opacity="1"/>
<line x1="103.70" y1="316.56" x2="103.70" y2="323.51" stroke="#8fcfc5" stroke-width="0.8"/>
<rect x="102.70" y="319.57" width="2.0" height="2.78" fill="#1b9381" opacity="1"/>
<rect x="105.70" y="319.22" width="2.0" height="2.55" fill="#1b9381" opacity="1"/>
<rect x="108.71" y="318.99" width="2.0" height="2.55" fill="#1b9381" opacity="1"/>
<line x1="112.72" y1="299.20" x2="112.72" y2="314.25" stroke="#8fcfc5" stroke-width="0.8"/>
<rect x="111.72" y="300.36" width="2.0" height="12.73" fill="#1b9381" opacity="1"/>
<line x1="115.72" y1="298.05" x2="115.72" y2="306.15" stroke="#f09398" stroke-width="0.8"/>
<rect x="114.72" y="299.67" width="2.0" height="5.32" fill="#e7363f" opacity="1"/>
<rect x="117.73" y="303.37" width="2.0" height="2.78" fill="#e7363f" opacity="1"/>
<rect x="120.73" y="303.83" width="2.0" height="6.48" fill="#e7363f" opacity="1"/>
<rect x="123.74" y="307.31" width="2.0" height="2.55" fill="#1b9381" opacity="1"/>
<rect x="126.75" y="306.26" width="2.0" height="2.55" fill="#e7363f" opacity="1"/>
<rect x="129.75" y="305.80" width="2.0" height="2.55" fill="#1b9381" opacity="1"/>
<rect x="132.76" y="306.96" width="2.0" height="2.32" fill="#e7363f" opacity="1"/>
<line x1="136.76" y1="300.36" x2="136.76" y2="311.94" stroke="#8fcfc5" stroke-width="0.8"/>
<rect x="135.76" y="301.06" width="2.0" height="6.25" fill="#1b9381" opacity="1"/>
<rect x="138.77" y="297.35" width="2.0" height="4.17" fill="#1b9381" opacity="1"/>
<rect x="141.78" y="296.54" width="2.0" height="2.55" fill="#e7363f" opacity="1"/>
<rect x="144.78" y="297.00" width="2.0" height="1.63" fill="#1b9381" opacity="0.6"/>
<rect x="147.79" y="297.00" width="2.0" height="2.09" fill="#e7363f" opacity="1"/>
<rect x="147.79" y="298.74" width="2.0" height="2.31" fill="#e7363f" opacity="1"/>
<rect x="150.79" y="300.59" width="2.0" height="2.31" fill="#e7363f" opacity="1"/>
<rect x="153.80" y="302.09" width="2.0" height="2.09" fill="#1b9381" opacity="1"/>
<rect x="156.81" y="302.09" width="2.0" height="1.39" fill="#1b9381" opacity="0.6"/>
<line x1="160.81" y1="309.62" x2="160.81" y2="318.88" stroke="#f09398" stroke-width="0.8"/>
<rect x="159.81" y="310.31" width="2.0" height="7.41" fill="#e7363f" opacity="1"/>
<line x1="163.82" y1="314.25" x2="163.82" y2="323.51" stroke="#8fcfc5" stroke-width="0.8"/>
<rect x="162.82" y="317.37" width="2.0" height="1.86" fill="#1b9381" opacity="1"/>
<line x1="166.82" y1="313.09" x2="166.82" y2="319.57" stroke="#f09398" stroke-width="0.8"/>
<rect x="165.82" y="316.56" width="2.0" height="2.31" fill="#e7363f" opacity="1"/>
<rect x="168.83" y="316.56" width="2.0" height="2.31" fill="#e7363f" opacity="1"/>
<rect x="171.84" y="317.72" width="2.0" height="2.78" fill="#e7363f" opacity="1"/>
<rect x="174.84" y="319.22" width="2.0" height="2.55" fill="#e7363f" opacity="1"/>
<rect x="177.85" y="319.22" width="2.0" height="2.32" fill="#1b9381" opacity="1"/>
<rect x="180.85" y="319.46" width="2.0" height="1.39" fill="#1b9381" opacity="0.6"/>
<line x1="187.87" y1="309.62" x2="187.87" y2="327.44" stroke="#8fcfc5" stroke-width="0.8"/>
<rect x="186.87" y="317.26" width="2.0" height="9.72" fill="#1b9381" opacity="1"/>
<line x1="190.87" y1="315.41" x2="190.87" y2="320.04" stroke="#f09398" stroke-width="0.8"/>
<rect x="189.87" y="316.91" width="2.0" height="2.55" fill="#e7363f" opacity="1"/>
<rect x="192.88" y="317.84" width="2.0" height="2.09" fill="#1b9381" opacity="1"/>
<rect x="195.88" y="317.37" width="2.0" height="2.09" fill="#1b9381" opacity="1"/>
<rect x="198.89" y="315.87" width="2.0" height="3.01" fill="#1b9381" opacity="1"/>
<line x1="202.90" y1="313.09" x2="202.90" y2="317.26" stroke="#8fcfc5" stroke-width="0.8"/>
<rect x="201.90" y="314.25" width="2.0" height="2.31" fill="#1b9381" opacity="1"/>
<rect x="204.90" y="314.36" width="2.0" height="1.39" fill="#e7363f" opacity="0.6"/>
<rect x="207.91" y="347.04" width="2.0" height="8.80" fill="#e7363f" opacity="1"/>
<rect x="210.91" y="355.83" width="2.0" height="19.68" fill="#e7363f" opacity="1"/>
<line x1="214.92" y1="373.89" x2="214.92" y2="385.93" stroke="#f09398" stroke-width="0.8"/>
<rect x="213.92" y="374.35" width="2.0" height="9.26" fill="#e7363f" opacity="1"/>
<line x1="217.93" y1="375.51" x2="217.93" y2="384.77" stroke="#8fcfc5" stroke-width="0.8"/>
<rect x="216.93" y="380.14" width="2.0" height="3.47" fill="#1b9381" opacity="1"/>
<line x1="220.93" y1="376.67" x2="220.93" y2="385.46" stroke="#f09398" stroke-width="0.8"/>
<rect x="219.93" y="381.30" width="2.0" height="2.31" fill="#e7363f" opacity="1"/>
<rect x="222.94" y="382.57" width="2.0" height="2.55" fill="#e7363f" opacity="1"/>
<line x1="226.94" y1="381.99" x2="226.94" y2="388.70" stroke="#8fcfc5" stroke-width="0.8"/>
<rect x="225.94" y="382.45" width="2.0" height="3.01" fill="#1b9381" opacity="1"/>
<rect x="228.95" y="383.03" width="2.0" height="1.39" fill="#e7363f" opacity="0.6"/>
<line x1="232.96" y1="390.56" x2="232.96" y2="404.44" stroke="#f09398" stroke-width="0.8"/>
<rect x="231.96" y="394.72" width="2.0" height="3.94" fill="#e7363f" opacity="1"/>
<line x1="235.96" y1="390.56" x2="235.96" y2="402.13" stroke="#8fcfc5" stroke-width="0.8"/>
<rect x="234.96" y="395.65" width="2.0" height="3.01" fill="#1b9381" opacity="1"/>
<line x1="238.97" y1="388.24" x2="238.97" y2="397.50" stroke="#8fcfc5" stroke-width="0.8"/>
<rect x="237.97" y="394.03" width="2.0" height="3.01" fill="#1b9381" opacity="1"/>
<rect x="240.97" y="395.19" width="2.0" height="5.09" fill="#e7363f" opacity="1"/>
<line x1="244.98" y1="399.35" x2="244.98" y2="404.44" stroke="#f09398" stroke-width="0.8"/>
<rect x="243.98" y="399.81" width="2.0" height="3.47" fill="#e7363f" opacity="1"/>
<rect x="246.99" y="401.32" width="2.0" height="2.32" fill="#1b9381" opacity="1"/>
<rect x="249.99" y="400.16" width="2.0" height="2.32" fill="#1b9381" opacity="1"/>
<rect x="253.00" y="399.46" width="2.0" height="1.39" fill="#1b9381" opacity="0.6"/>
<line x1="257.00" y1="395.19" x2="257.00" y2="419.49" stroke="#8fcfc5" stroke-width="0.8"/>
<rect x="256.00" y="399.81" width="2.0" height="10.42" fill="#1b9381" opacity="1"/>
<line x1="260.01" y1="395.65" x2="260.01" y2="406.76" stroke="#f09398" stroke-width="0.8"/>
<rect x="259.01" y="400.28" width="2.0" height="2.31" fill="#e7363f" opacity="1"/>
<line x1="263.02" y1="395.65" x2="263.02" y2="404.44" stroke="#8fcfc5" stroke-width="0.8"/>
<rect x="262.02" y="401.32" width="2.0" height="1.63" fill="#1b9381" opacity="0.6"/>
<line x1="266.02" y1="400.97" x2="266.02" y2="407.92" stroke="#f09398" stroke-width="0.8"/>
<rect x="265.02" y="402.13" width="2.0" height="2.31" fill="#e7363f" opacity="1"/>
<rect x="268.03" y="400.97" width="2.0" height="3.01" fill="#1b9381" opacity="1"/>
<rect x="271.03" y="400.28" width="2.0" height="2.31" fill="#e7363f" opacity="1"/>
<rect x="274.04" y="401.67" width="2.0" height="3.24" fill="#e7363f" opacity="1"/>
<rect x="277.05" y="403.86" width="2.0" height="1.39" fill="#1b9381" opacity="0.6"/>
<line x1="281.05" y1="402.13" x2="281.05" y2="412.55" stroke="#8fcfc5" stroke-width="0.8"/>
<rect x="280.05" y="404.79" width="2.0" height="1.86" fill="#1b9381" opacity="1"/>
<line x1="284.06" y1="395.19" x2="284.06" y2="406.76" stroke="#8fcfc5" stroke-width="0.8"/>
<rect x="283.06" y="400.97" width="2.0" height="4.63" fill="#1b9381" opacity="1"/>
<rect x="286.06" y="399.35" width="2.0" height="2.31" fill="#1b9381" opacity="1"/>
<rect x="289.07" y="398.54" width="2.0" height="1.39" fill="#1b9381" opacity="0.6"/>
<line x1="30.1" y1="336.2" x2="78.7" y2="318.4" stroke="#5590d8" stroke-width="0.8" stroke-dasharray="1.2 1.2"/>
<circle cx="30.400000000000002" cy="336.2" r="1.4" fill="#0d47a8"/>
<path d="M76.8 318.4 L78.7 316.7 L80.60000000000001 318.4 L78.7 320.09999999999997Z" fill="#e02d14"/>
</g>
<rect x="0.1" y="286.7" width="1.9" height="157.8" fill="#999"/>
<rect x="0.1" y="286.2" width="316.5" height="2.3" fill="#adadad"/>
<line x1="293.2" y1="287.2" x2="293.2" y2="435.4" stroke="#555" stroke-width="0.8"/>
<line x1="1.1" y1="435" x2="293.59999999999997" y2="435" stroke="#555" stroke-width="0.8"/>
<line x1="293.2" y1="291.0" x2="294.59999999999997" y2="291.0" stroke="#555" stroke-width="0.7"/>
<line x1="293.2" y1="315.3" x2="294.59999999999997" y2="315.3" stroke="#555" stroke-width="0.7"/>
<line x1="293.2" y1="339.5" x2="294.59999999999997" y2="339.5" stroke="#555" stroke-width="0.7"/>
<line x1="293.2" y1="363.7" x2="294.59999999999997" y2="363.7" stroke="#555" stroke-width="0.7"/>
<line x1="293.2" y1="387.6" x2="294.59999999999997" y2="387.6" stroke="#555" stroke-width="0.7"/>
<line x1="293.2" y1="411.9" x2="294.59999999999997" y2="411.9" stroke="#555" stroke-width="0.7"/>
<line x1="1.6" y1="435" x2="1.6" y2="436.6" stroke="#555" stroke-width="0.7"/>
<line x1="49.3" y1="435" x2="49.3" y2="436.6" stroke="#555" stroke-width="0.7"/>
<line x1="97.4" y1="435" x2="97.4" y2="436.6" stroke="#555" stroke-width="0.7"/>
<line x1="145.6" y1="435" x2="145.6" y2="436.6" stroke="#555" stroke-width="0.7"/>
<line x1="193.8" y1="435" x2="193.8" y2="436.6" stroke="#555" stroke-width="0.7"/>
<line x1="242.0" y1="435" x2="242.0" y2="436.6" stroke="#555" stroke-width="0.7"/>
<line x1="290.2" y1="435" x2="290.2" y2="436.6" stroke="#555" stroke-width="0.7"/>
<rect x="78.5" y="327.5" width="148.60000000000002" height="21.100000000000012" fill="#000" opacity="0.22"/>
<rect x="77.5" y="326.5" width="148.3" height="20.80000000000001" fill="#fff" stroke="#a6a6a6" stroke-width="0.7"/>
<rect x="192.1" y="326.8" width="20.30000000000001" height="11.0" fill="#ffd76d"/>
<g stroke="#22b24a" fill="none"><rect x="3.5" y="276.4" width="2.2" height="3.0" rx="1.0" stroke-width="1.0"/><rect x="7.15" y="275.45" width="1.8" height="4.6" rx="0.8" stroke-width="0.9"/><line x1="8.05" y1="273.8" x2="8.05" y2="275.1" stroke-width="1.0"/><line x1="8.05" y1="280.4" x2="8.05" y2="281.6" stroke-width="1.0"/></g>
<line x1="266.7" y1="282.35" x2="271.90000000000003" y2="282.35" stroke="#222" stroke-width="0.9"/>
<rect x="285.4" y="277.15" width="5" height="5" fill="none" stroke="#222" stroke-width="0.9"/>
<path d="M304.1 277.25 L309.1 282.25 M309.1 277.25 L304.1 282.25" stroke="#1a1a1a" stroke-width="1.05" fill="none"/>
<rect x="4.5" y="291.09999999999997" width="4.55" height="6.3" fill="#e76d69" rx="0.7"/><rect x="9.05" y="291.09999999999997" width="4.55" height="6.3" fill="#3f8bd9" rx="0.7"/><path d="M5.1 293.29999999999995 H13.0 M5.1 295.29999999999995 H13.0 M6.8 291.7 V296.79999999999995 M11.3 291.7 V296.79999999999995" stroke="#fff" stroke-width="0.55" opacity="0.55" fill="none"/>
<rect x="17.150000000000002" y="291.65" width="3.4" height="5.2" fill="#f9d5d3" stroke="#e35f5a" stroke-width="1.1" rx="0.5"/><rect x="21.5" y="292.7" width="3.4" height="4.15" fill="#d3e6f9" stroke="#3a88d8" stroke-width="1.1" rx="0.5"/>
<rect x="326" y="271.3" width="319.1" height="174.3" fill="#ddeefd"/>
<rect x="327.2" y="285.8" width="315.59999999999997" height="158.39999999999998" fill="#fff"/>
<clipPath id="cp3"><rect x="327.2" y="285.8" width="292.59999999999997" height="148.5"/></clipPath>
<g clip-path="url(#cp3)">
<line x1="341.10" y1="286.8" x2="341.10" y2="434.3" class="g"/>
<line x1="365.15" y1="286.8" x2="365.15" y2="434.3" class="g"/>
<line x1="389.20" y1="286.8" x2="389.20" y2="434.3" class="g"/>
<line x1="413.25" y1="286.8" x2="413.25" y2="434.3" class="g"/>
<line x1="437.30" y1="286.8" x2="437.30" y2="434.3" class="g"/>
<line x1="461.35" y1="286.8" x2="461.35" y2="434.3" class="g"/>
<line x1="485.40" y1="286.8" x2="485.40" y2="434.3" class="g"/>
<line x1="509.45" y1="286.8" x2="509.45" y2="434.3" class="g"/>
<line x1="533.50" y1="286.8" x2="533.50" y2="434.3" class="g"/>
<line x1="557.55" y1="286.8" x2="557.55" y2="434.3" class="g"/>
<line x1="581.60" y1="286.8" x2="581.60" y2="434.3" class="g"/>
<line x1="605.65" y1="286.8" x2="605.65" y2="434.3" class="g"/>
<line x1="328.2" y1="313.2" x2="619.8" y2="313.2" stroke="#8db6d2" stroke-width="0.9"/>
<rect x="328.08" y="327.09" width="2.0" height="1.86" fill="#1b9381" opacity="1"/>
<rect x="331.08" y="325.82" width="2.0" height="2.31" fill="#1b9381" opacity="1"/>
<line x1="335.09" y1="317.72" x2="335.09" y2="329.30" stroke="#8fcfc5" stroke-width="0.8"/>
<rect x="334.09" y="318.42" width="2.0" height="8.56" fill="#1b9381" opacity="1"/>
<rect x="337.09" y="318.30" width="2.0" height="1.39" fill="#e7363f" opacity="0.6"/>
<line x1="389.20" y1="342.03" x2="389.20" y2="374.44" stroke="#f09398" stroke-width="0.8"/>
<rect x="388.20" y="350.13" width="2.0" height="23.15" fill="#e7363f" opacity="1"/>
<line x1="392.20" y1="368.65" x2="392.20" y2="375.59" stroke="#f09398" stroke-width="0.8"/>
<rect x="391.20" y="370.96" width="2.0" height="3.47" fill="#e7363f" opacity="1"/>
<line x1="437.29" y1="345.50" x2="437.29" y2="366.33" stroke="#8fcfc5" stroke-width="0.8"/>
<rect x="436.29" y="346.66" width="2.0" height="17.36" fill="#1b9381" opacity="1"/>
<line x1="440.30" y1="321.19" x2="440.30" y2="347.81" stroke="#8fcfc5" stroke-width="0.8"/>
<rect x="439.30" y="331.61" width="2.0" height="15.74" fill="#1b9381" opacity="1"/>
<line x1="443.30" y1="323.51" x2="443.30" y2="338.56" stroke="#8fcfc5" stroke-width="0.8"/>
<rect x="442.30" y="324.67" width="2.0" height="7.41" fill="#1b9381" opacity="1"/>
<rect x="445.31" y="317.26" width="2.0" height="7.87" fill="#1b9381" opacity="1"/>
<line x1="449.32" y1="310.31" x2="449.32" y2="318.19" stroke="#8fcfc5" stroke-width="0.8"/>
<rect x="448.32" y="311.94" width="2.0" height="5.79" fill="#1b9381" opacity="1"/>
<line x1="452.32" y1="308.46" x2="452.32" y2="314.25" stroke="#f09398" stroke-width="0.8"/>
<rect x="451.32" y="311.59" width="2.0" height="2.32" fill="#e7363f" opacity="1"/>
<line x1="455.33" y1="308.46" x2="455.33" y2="317.72" stroke="#f09398" stroke-width="0.8"/>
<rect x="454.33" y="312.63" width="2.0" height="2.31" fill="#e7363f" opacity="1"/>
<rect x="457.33" y="312.51" width="2.0" height="1.39" fill="#e7363f" opacity="0.6"/>
<line x1="461.34" y1="308.46" x2="461.34" y2="325.13" stroke="#f09398" stroke-width="0.8"/>
<rect x="460.34" y="314.94" width="2.0" height="9.72" fill="#e7363f" opacity="1"/>
<line x1="464.35" y1="322.81" x2="464.35" y2="337.40" stroke="#f09398" stroke-width="0.8"/>
<rect x="463.35" y="323.51" width="2.0" height="3.47" fill="#e7363f" opacity="1"/>
<line x1="467.35" y1="323.51" x2="467.35" y2="332.77" stroke="#f09398" stroke-width="0.8"/>
<rect x="466.35" y="324.20" width="2.0" height="3.24" fill="#e7363f" opacity="1"/>
<rect x="469.36" y="322.81" width="2.0" height="5.32" fill="#1b9381" opacity="1"/>
<line x1="473.36" y1="322.35" x2="473.36" y2="330.45" stroke="#f09398" stroke-width="0.8"/>
<rect x="472.36" y="322.81" width="2.0" height="6.02" fill="#e7363f" opacity="1"/>
<line x1="341.10" y1="332.69" x2="341.10" y2="357.45" stroke="#f09398" stroke-width="0.8"/>
<rect x="340.10" y="335.00" width="2.0" height="21.99" fill="#e7363f" opacity="1"/>
<rect x="343.11" y="356.30" width="2.0" height="22.69" fill="#e7363f" opacity="1"/>
<rect x="346.11" y="377.82" width="2.0" height="9.26" fill="#e7363f" opacity="1"/>
<rect x="349.12" y="374.81" width="2.0" height="12.27" fill="#1b9381" opacity="1"/>
<rect x="352.12" y="369.72" width="2.0" height="5.79" fill="#1b9381" opacity="1"/>
<rect x="355.13" y="366.25" width="2.0" height="3.94" fill="#1b9381" opacity="1"/>
<rect x="358.14" y="363.47" width="2.0" height="3.24" fill="#1b9381" opacity="1"/>
<rect x="361.14" y="362.20" width="2.0" height="1.39" fill="#1b9381" opacity="0.6"/>
<line x1="365.15" y1="381.30" x2="365.15" y2="404.91" stroke="#f09398" stroke-width="0.8"/>
<rect x="364.15" y="400.97" width="2.0" height="3.47" fill="#e7363f" opacity="1"/>
<rect x="367.15" y="397.04" width="2.0" height="9.72" fill="#1b9381" opacity="1"/>
<line x1="371.16" y1="397.04" x2="371.16" y2="414.86" stroke="#f09398" stroke-width="0.8"/>
<rect x="370.16" y="397.50" width="2.0" height="9.72" fill="#e7363f" opacity="1"/>
<rect x="373.17" y="406.30" width="2.0" height="6.94" fill="#e7363f" opacity="1"/>
<rect x="376.17" y="411.85" width="2.0" height="4.17" fill="#e7363f" opacity="1"/>
<rect x="379.18" y="409.07" width="2.0" height="5.79" fill="#1b9381" opacity="1"/>
<line x1="383.18" y1="403.29" x2="383.18" y2="410.23" stroke="#8fcfc5" stroke-width="0.8"/>
<rect x="382.18" y="407.22" width="2.0" height="2.31" fill="#1b9381" opacity="1"/>
<rect x="385.19" y="408.03" width="2.0" height="1.39" fill="#1b9381" opacity="0.6"/>
<line x1="395.21" y1="369.72" x2="395.21" y2="384.07" stroke="#f09398" stroke-width="0.8"/>
<rect x="394.21" y="372.04" width="2.0" height="11.57" fill="#e7363f" opacity="1"/>
<line x1="398.21" y1="374.35" x2="398.21" y2="384.07" stroke="#8fcfc5" stroke-width="0.8"/>
<rect x="397.21" y="378.98" width="2.0" height="4.63" fill="#1b9381" opacity="1"/>
<rect x="400.22" y="378.52" width="2.0" height="2.78" fill="#e7363f" opacity="1"/>
<line x1="404.23" y1="377.82" x2="404.23" y2="383.61" stroke="#f09398" stroke-width="0.8"/>
<rect x="403.23" y="380.14" width="2.0" height="2.31" fill="#e7363f" opacity="1"/>
<line x1="407.23" y1="381.53" x2="407.23" y2="387.08" stroke="#f09398" stroke-width="0.8"/>
<rect x="406.23" y="381.99" width="2.0" height="2.31" fill="#e7363f" opacity="1"/>
<rect x="409.24" y="382.57" width="2.0" height="2.55" fill="#e7363f" opacity="1"/>
<rect x="412.24" y="378.98" width="2.0" height="12.73" fill="#e7363f" opacity="1"/>
<rect x="415.25" y="380.14" width="2.0" height="5.79" fill="#1b9381" opacity="1"/>
<rect x="418.26" y="372.04" width="2.0" height="9.26" fill="#1b9381" opacity="1"/>
<line x1="422.26" y1="363.47" x2="422.26" y2="374.58" stroke="#f09398" stroke-width="0.8"/>
<rect x="421.26" y="372.15" width="2.0" height="2.32" fill="#e7363f" opacity="1"/>
<line x1="425.27" y1="356.99" x2="425.27" y2="375.05" stroke="#8fcfc5" stroke-width="0.8"/>
<rect x="424.27" y="358.84" width="2.0" height="15.51" fill="#1b9381" opacity="1"/>
<line x1="428.27" y1="358.84" x2="428.27" y2="365.56" stroke="#f09398" stroke-width="0.8"/>
<rect x="427.27" y="358.96" width="2.0" height="2.09" fill="#e7363f" opacity="1"/>
<line x1="431.28" y1="356.99" x2="431.28" y2="361.62" stroke="#8fcfc5" stroke-width="0.8"/>
<rect x="430.28" y="359.65" width="2.0" height="1.63" fill="#1b9381" opacity="0.6"/>
<rect x="433.29" y="359.88" width="2.0" height="1.39" fill="#1b9381" opacity="0.6"/>
<rect x="475.37" y="324.20" width="2.0" height="5.09" fill="#1b9381" opacity="1"/>
<rect x="478.38" y="323.85" width="2.0" height="2.32" fill="#e7363f" opacity="1"/>
<rect x="481.38" y="324.78" width="2.0" height="1.39" fill="#e7363f" opacity="0.6"/>
<line x1="533.48" y1="306.15" x2="533.48" y2="346.66" stroke="#8fcfc5" stroke-width="0.8"/>
<rect x="532.48" y="313.09" width="2.0" height="26.62" fill="#1b9381" opacity="1"/>
<line x1="536.49" y1="306.15" x2="536.49" y2="324.67" stroke="#f09398" stroke-width="0.8"/>
<rect x="535.49" y="313.90" width="2.0" height="2.32" fill="#e7363f" opacity="1"/>
<line x1="539.50" y1="309.62" x2="539.50" y2="326.98" stroke="#8fcfc5" stroke-width="0.8"/>
<rect x="538.50" y="314.59" width="2.0" height="1.63" fill="#1b9381" opacity="0.6"/>
<line x1="542.50" y1="308.69" x2="542.50" y2="319.11" stroke="#f09398" stroke-width="0.8"/>
<rect x="541.50" y="313.90" width="2.0" height="2.09" fill="#e7363f" opacity="1"/>
<line x1="545.51" y1="308.46" x2="545.51" y2="318.88" stroke="#8fcfc5" stroke-width="0.8"/>
<rect x="544.51" y="309.62" width="2.0" height="5.79" fill="#1b9381" opacity="1"/>
<rect x="547.51" y="309.62" width="2.0" height="2.31" fill="#e7363f" opacity="1"/>
<rect x="550.52" y="310.31" width="2.0" height="2.31" fill="#e7363f" opacity="1"/>
<rect x="553.53" y="310.89" width="2.0" height="2.09" fill="#e7363f" opacity="1"/>
<line x1="557.53" y1="289.94" x2="557.53" y2="320.04" stroke="#f09398" stroke-width="0.8"/>
<rect x="556.53" y="308.46" width="2.0" height="8.10" fill="#e7363f" opacity="1"/>
<line x1="560.54" y1="303.83" x2="560.54" y2="321.19" stroke="#f09398" stroke-width="0.8"/>
<rect x="559.54" y="315.87" width="2.0" height="4.63" fill="#e7363f" opacity="1"/>
<line x1="563.54" y1="314.25" x2="563.54" y2="323.51" stroke="#f09398" stroke-width="0.8"/>
<rect x="562.54" y="320.04" width="2.0" height="2.78" fill="#e7363f" opacity="1"/>
<line x1="566.55" y1="316.56" x2="566.55" y2="324.20" stroke="#8fcfc5" stroke-width="0.8"/>
<rect x="565.55" y="317.26" width="2.0" height="5.09" fill="#1b9381" opacity="1"/>
<line x1="569.56" y1="316.56" x2="569.56" y2="321.19" stroke="#8fcfc5" stroke-width="0.8"/>
<rect x="568.56" y="316.91" width="2.0" height="2.32" fill="#1b9381" opacity="1"/>
<rect x="571.56" y="311.24" width="2.0" height="6.02" fill="#1b9381" opacity="1"/>
<line x1="575.57" y1="303.83" x2="575.57" y2="312.63" stroke="#8fcfc5" stroke-width="0.8"/>
<rect x="574.57" y="307.31" width="2.0" height="4.63" fill="#1b9381" opacity="1"/>
<rect x="577.57" y="306.26" width="2.0" height="1.39" fill="#e7363f" opacity="0.6"/>
<line x1="581.58" y1="313.09" x2="581.58" y2="338.56" stroke="#f09398" stroke-width="0.8"/>
<rect x="580.58" y="317.72" width="2.0" height="3.47" fill="#e7363f" opacity="1"/>
<line x1="584.59" y1="313.09" x2="584.59" y2="330.45" stroke="#f09398" stroke-width="0.8"/>
<rect x="583.59" y="320.04" width="2.0" height="2.78" fill="#e7363f" opacity="1"/>
<line x1="587.59" y1="321.19" x2="587.59" y2="328.14" stroke="#8fcfc5" stroke-width="0.8"/>
<rect x="586.59" y="321.54" width="2.0" height="2.32" fill="#1b9381" opacity="1"/>
<rect x="589.60" y="317.72" width="2.0" height="5.09" fill="#1b9381" opacity="1"/>
<rect x="592.60" y="310.78" width="2.0" height="7.41" fill="#1b9381" opacity="1"/>
<rect x="595.61" y="303.83" width="2.0" height="7.41" fill="#1b9381" opacity="1"/>
<line x1="599.62" y1="296.89" x2="599.62" y2="308.00" stroke="#f09398" stroke-width="0.8"/>
<rect x="598.62" y="303.37" width="2.0" height="3.94" fill="#e7363f" opacity="1"/>
<rect x="601.62" y="306.26" width="2.0" height="1.39" fill="#1b9381" opacity="0.6"/>
<rect x="484.39" y="347.73" width="2.0" height="34.72" fill="#e7363f" opacity="1"/>
<rect x="487.39" y="381.30" width="2.0" height="27.31" fill="#e7363f" opacity="1"/>
<line x1="491.40" y1="405.83" x2="491.40" y2="411.85" stroke="#8fcfc5" stroke-width="0.8"/>
<rect x="490.40" y="406.30" width="2.0" height="4.63" fill="#1b9381" opacity="1"/>
<rect x="496.41" y="384.19" width="2.0" height="1.39" fill="#1b9381" opacity="0.6"/>
<rect x="499.42" y="383.96" width="2.0" height="1.39" fill="#1b9381" opacity="0.6"/>
<rect x="502.42" y="383.72" width="2.0" height="1.63" fill="#1b9381" opacity="0.6"/>
<rect x="505.43" y="382.80" width="2.0" height="2.55" fill="#1b9381" opacity="1"/>
<rect x="508.44" y="376.67" width="2.0" height="8.80" fill="#1b9381" opacity="1"/>
<rect x="511.44" y="369.72" width="2.0" height="13.89" fill="#1b9381" opacity="1"/>
<line x1="515.45" y1="365.09" x2="515.45" y2="372.04" stroke="#8fcfc5" stroke-width="0.8"/>
<rect x="514.45" y="368.56" width="2.0" height="2.31" fill="#1b9381" opacity="1"/>
<rect x="517.45" y="365.09" width="2.0" height="6.48" fill="#1b9381" opacity="1"/>
<line x1="521.46" y1="360.93" x2="521.46" y2="366.25" stroke="#8fcfc5" stroke-width="0.8"/>
<rect x="520.46" y="362.78" width="2.0" height="3.01" fill="#1b9381" opacity="1"/>
<line x1="524.47" y1="347.73" x2="524.47" y2="363.94" stroke="#8fcfc5" stroke-width="0.8"/>
<rect x="523.47" y="352.36" width="2.0" height="10.88" fill="#1b9381" opacity="1"/>
<line x1="527.47" y1="350.05" x2="527.47" y2="369.72" stroke="#f09398" stroke-width="0.8"/>
<rect x="526.47" y="352.36" width="2.0" height="10.42" fill="#e7363f" opacity="1"/>
<rect x="529.48" y="362.66" width="2.0" height="1.39" fill="#e7363f" opacity="0.6"/>
<rect x="604.63" y="340.30" width="2.0" height="23.29" fill="#1b9381" opacity="1"/>
<line x1="608.63" y1="336.97" x2="608.63" y2="347.70" stroke="#8fcfc5" stroke-width="0.8"/>
<rect x="607.63" y="337.71" width="2.0" height="4.44" fill="#1b9381" opacity="1"/>
<line x1="611.64" y1="332.91" x2="611.64" y2="342.15" stroke="#8fcfc5" stroke-width="0.8"/>
<rect x="610.64" y="338.84" width="2.0" height="2.18" fill="#1b9381" opacity="1"/>
<rect x="613.65" y="332.91" width="2.0" height="5.55" fill="#1b9381" opacity="1"/>
<rect x="616.65" y="328.10" width="2.0" height="5.91" fill="#1b9381" opacity="1"/>
<line x1="368.2" y1="405.8" x2="413.6" y2="379.4" stroke="#5590d8" stroke-width="0.8" stroke-dasharray="1.2 1.2"/>
<circle cx="368.5" cy="405.8" r="1.4" fill="#0d47a8"/>
<path d="M412.70000000000005 376.8 L414.6 375.1 L416.5 376.8 L414.6 378.5Z" fill="#e02d14"/>
</g>
<rect x="327.2" y="285.8" width="2.6" height="158.39999999999998" fill="#999"/>
<rect x="327.2" y="285.3" width="315.59999999999997" height="2.3" fill="#adadad"/>
<line x1="619.8" y1="286.3" x2="619.8" y2="434.7" stroke="#555" stroke-width="0.8"/>
<line x1="328.2" y1="434.3" x2="620.1999999999999" y2="434.3" stroke="#555" stroke-width="0.8"/>
<line x1="619.8" y1="289.5" x2="621.1999999999999" y2="289.5" stroke="#555" stroke-width="0.7"/>
<line x1="619.8" y1="337.7" x2="621.1999999999999" y2="337.7" stroke="#555" stroke-width="0.7"/>
<line x1="619.8" y1="361.7" x2="621.1999999999999" y2="361.7" stroke="#555" stroke-width="0.7"/>
<line x1="619.8" y1="385.8" x2="621.1999999999999" y2="385.8" stroke="#555" stroke-width="0.7"/>
<line x1="619.8" y1="409.8" x2="621.1999999999999" y2="409.8" stroke="#555" stroke-width="0.7"/>
<rect x="621.0" y="310.6" width="16.200000000000045" height="6.399999999999977" fill="#2f9c8c"/>
<line x1="329.8" y1="434.3" x2="329.8" y2="435.90000000000003" stroke="#555" stroke-width="0.7"/>
<line x1="377.7" y1="434.3" x2="377.7" y2="435.90000000000003" stroke="#555" stroke-width="0.7"/>
<line x1="425.6" y1="434.3" x2="425.6" y2="435.90000000000003" stroke="#555" stroke-width="0.7"/>
<line x1="473.5" y1="434.3" x2="473.5" y2="435.90000000000003" stroke="#555" stroke-width="0.7"/>
<line x1="521.4" y1="434.3" x2="521.4" y2="435.90000000000003" stroke="#555" stroke-width="0.7"/>
<line x1="569.3" y1="434.3" x2="569.3" y2="435.90000000000003" stroke="#555" stroke-width="0.7"/>
<line x1="617.2" y1="434.3" x2="617.2" y2="435.90000000000003" stroke="#555" stroke-width="0.7"/>
<rect x="416.3" y="386.4" width="147.60000000000002" height="21.200000000000035" fill="#000" opacity="0.22"/>
<rect x="415.3" y="385.4" width="147.3" height="20.900000000000034" fill="#fff" stroke="#a6a6a6" stroke-width="0.7"/>
<rect x="528.9" y="387.2" width="22.5" height="9.600000000000023" fill="#ffd76d"/>
<g stroke="#22b24a" fill="none"><rect x="331.5" y="276.2" width="2.2" height="3.0" rx="1.0" stroke-width="1.0"/><rect x="335.15" y="275.25" width="1.8" height="4.6" rx="0.8" stroke-width="0.9"/><line x1="336.05" y1="273.6" x2="336.05" y2="274.90000000000003" stroke-width="1.0"/><line x1="336.05" y1="280.2" x2="336.05" y2="281.40000000000003" stroke-width="1.0"/></g>
<line x1="593.6" y1="281.55" x2="598.8000000000001" y2="281.55" stroke="#222" stroke-width="0.9"/>
<rect x="612.2" y="276.34999999999997" width="5" height="5" fill="none" stroke="#222" stroke-width="0.9"/>
<path d="M631.1 276.45 L636.1 281.45 M636.1 276.45 L631.1 281.45" stroke="#1a1a1a" stroke-width="1.05" fill="none"/>
<rect x="331.59999999999997" y="290.2" width="4.55" height="6.3" fill="#e76d69" rx="0.7"/><rect x="336.15" y="290.2" width="4.55" height="6.3" fill="#3f8bd9" rx="0.7"/><path d="M332.2 292.4 H340.09999999999997 M332.2 294.4 H340.09999999999997 M333.9 290.8 V295.9 M338.4 290.8 V295.9" stroke="#fff" stroke-width="0.55" opacity="0.55" fill="none"/>
<rect x="344.25" y="290.75" width="3.4" height="5.2" fill="#f9d5d3" stroke="#e35f5a" stroke-width="1.1" rx="0.5"/><rect x="348.59999999999997" y="291.8" width="3.4" height="4.15" fill="#d3e6f9" stroke="#3a88d8" stroke-width="1.1" rx="0.5"/>
<rect x="320.7" y="226" width="330" height="5.8" fill="#f4f4f4"/>
<rect x="324" y="0" width="326" height="1.3" fill="#f4f4f4"/>
<rect x="323.7" y="0" width="0.8" height="225" fill="#f0f0f0"/>
<rect x="323.7" y="224.3" width="327" height="0.8" fill="#f2f2f2"/>
<rect x="647.6" y="231.8" width="2.4" height="218" fill="#f4f4f4"/>
<rect x="647.6" y="231.8" width="0.8" height="218" fill="#ebebeb"/>
</svg>
<div class="cw" style="left:0;top:0;width:650px;height:449px">
<div class="b" style="left:106.5px;top:7.8px;width:108.3px;height:24.0px;line-height:23.6px;padding-left:8.30px;letter-spacing:0.553px">+51 доллар</div>
<div class="b" style="left:425.6px;top:6.9px;width:125.5px;height:23.8px;line-height:23.4px;padding-left:6.80px;letter-spacing:0.771px">+40 долларов</div>
<div class="b" style="left:90.0px;top:235.1px;width:120.0px;height:23.8px;line-height:23.4px;padding-left:8.80px;letter-spacing:0.522px">+24 доллара</div>
<div class="b" style="left:426.6px;top:235.6px;width:117.8px;height:23.6px;line-height:23.2px;padding-left:8.70px;letter-spacing:0.595px">+22 доллара</div>
<span class="t" style="left:15.50px;top:46.48px;transform:scale(0.2969,0.3450);color:#1a1a1a;">JD,H1</span>
<span class="t" style="left:342.00px;top:45.88px;transform:scale(0.2969,0.3450);color:#1a1a1a;">JD,H1</span>
<span class="t" style="left:12.50px;top:274.48px;transform:scale(0.2969,0.3450);color:#1a1a1a;">JD,H1</span>
<span class="t" style="left:340.30px;top:274.28px;transform:scale(0.2969,0.3450);color:#1a1a1a;">JD,H1</span>
</div>
<div class="cw" style="left:3.1px;top:57.8px;width:315.9px;height:158.7px"><span class="t" style="left:294.30px;top:0.98px;transform:scale(0.2800,0.2800);color:#333;">65.37</span><span class="t" style="left:294.30px;top:25.18px;transform:scale(0.2800,0.2800);color:#333;">63.36</span><span class="t" style="left:294.30px;top:49.38px;transform:scale(0.2800,0.2800);color:#333;">61.35</span><span class="t" style="left:294.30px;top:73.58px;transform:scale(0.2800,0.2800);color:#333;">59.34</span><span class="t" style="left:294.30px;top:97.78px;transform:scale(0.2800,0.2800);color:#333;">57.33</span><span class="t" style="left:294.30px;top:121.98px;transform:scale(0.2800,0.2800);color:#333;">55.32</span><span class="t" style="left:2.20px;top:151.14px;transform:scale(0.2575,0.2750);color:#333;">24 Jan 2023</span><span class="t" style="left:50.20px;top:151.14px;transform:scale(0.2575,0.2750);color:#333;">26 Jan 16:00</span><span class="t" style="left:98.30px;top:151.14px;transform:scale(0.2575,0.2750);color:#333;">30 Jan 16:00</span><span class="t" style="left:146.40px;top:151.14px;transform:scale(0.2575,0.2750);color:#333;">1 Feb 16:00</span><span class="t" style="left:194.60px;top:151.14px;transform:scale(0.2575,0.2750);color:#333;">3 Feb 16:00</span><span class="t" style="left:242.70px;top:151.14px;transform:scale(0.2575,0.2750);color:#333;">7 Feb 16:00</span><span class="t" style="left:290.80px;top:151.14px;transform:scale(0.2575,0.2750);color:#333;">9 Feb 16:00</span><span class="t" style="left:27.40px;top:4.49px;transform:scale(0.2190,0.2700);color:#333;">JD, H1:</span><span class="t" style="left:47.80px;top:4.49px;transform:scale(0.2445,0.2700);color:#333;">JD.COM INC, 15 min delayed</span><span class="t" style="left:116.80px;top:4.49px;transform:scale(0.2688,0.2700);color:#333;">35.76 35.76 35.75 35.76</span><span class="t" style="left:72.80px;top:28.11px;transform:scale(0.3332,0.3250);color:#5c5c5c;">autotrade #3 sell 17 JD at 64.20, profit</span><span class="t" style="left:188.30px;top:28.11px;transform:scale(0.3201,0.3250);color:#8a846c;">51.85,</span><span class="t" style="left:208.20px;top:28.11px;transform:scale(0.2741,0.3250);color:#5c5c5c;">JD</span><span class="t" style="left:72.80px;top:37.21px;transform:scale(0.3237,0.3250);color:#5c5c5c;">64.40</span></div>
<div class="cw" style="left:329.4px;top:57.5px;width:317.6px;height:160.0px"><span class="t" style="left:295.80px;top:1.28px;transform:scale(0.2800,0.2800);color:#333;">45.29</span><span class="t" style="left:295.80px;top:25.48px;transform:scale(0.2800,0.2800);color:#333;">43.82</span><span class="t" style="left:295.80px;top:49.68px;transform:scale(0.2800,0.2800);color:#333;">42.35</span><span class="t" style="left:295.80px;top:73.88px;transform:scale(0.2800,0.2800);color:#333;">40.88</span><span class="t" style="left:295.80px;top:98.08px;transform:scale(0.2800,0.2800);color:#333;">39.41</span><span class="t" style="left:295.80px;top:122.28px;transform:scale(0.2800,0.2800);color:#333;">37.94</span><span class="t" style="left:2.40px;top:151.74px;transform:scale(0.2575,0.2750);color:#333;">24 Mar 2023</span><span class="t" style="left:50.50px;top:151.74px;transform:scale(0.2575,0.2750);color:#333;">28 Mar 15:00</span><span class="t" style="left:98.60px;top:151.74px;transform:scale(0.2575,0.2750);color:#333;">30 Mar 15:00</span><span class="t" style="left:146.80px;top:151.74px;transform:scale(0.2575,0.2750);color:#333;">3 Apr 15:00</span><span class="t" style="left:194.90px;top:151.74px;transform:scale(0.2575,0.2750);color:#333;">5 Apr 15:00</span><span class="t" style="left:243.00px;top:151.74px;transform:scale(0.2575,0.2750);color:#333;">10 Apr 15:00</span><span class="t" style="left:291.10px;top:151.74px;transform:scale(0.2575,0.2750);color:#333;">12 Apr 15:00</span><span class="t" style="left:27.90px;top:4.49px;transform:scale(0.2190,0.2700);color:#333;">JD, H1:</span><span class="t" style="left:48.30px;top:4.49px;transform:scale(0.2445,0.2700);color:#333;">JD.COM INC, 15 min delayed</span><span class="t" style="left:117.30px;top:4.49px;transform:scale(0.2688,0.2700);color:#333;">35.76 35.76 35.75 35.76</span><span class="t" style="left:71.30px;top:85.81px;transform:scale(0.3353,0.3250);color:#5c5c5c;">autotrade #7 sell 28 JD at 40.92, profit</span><span class="t" style="left:187.30px;top:85.81px;transform:scale(0.2985,0.3250);color:#8a846c;">40.04,</span><span class="t" style="left:207.60px;top:85.81px;transform:scale(0.2618,0.3250);color:#5c5c5c;">JD</span><span class="t" style="left:71.30px;top:94.91px;transform:scale(0.3237,0.3250);color:#5c5c5c;">41.08</span></div>
<div class="cw" style="left:0.1px;top:286.7px;width:316.5px;height:157.8px"><span class="t" style="left:295.10px;top:1.28px;transform:scale(0.2800,0.2800);color:#333;">48.83</span><span class="t" style="left:295.10px;top:25.58px;transform:scale(0.2800,0.2800);color:#333;">46.90</span><span class="t" style="left:295.10px;top:49.78px;transform:scale(0.2800,0.2800);color:#333;">45.13</span><span class="t" style="left:295.10px;top:73.98px;transform:scale(0.2800,0.2800);color:#333;">43.28</span><span class="t" style="left:295.10px;top:97.88px;transform:scale(0.2800,0.2800);color:#333;">41.43</span><span class="t" style="left:295.10px;top:122.18px;transform:scale(0.2800,0.2800);color:#333;">39.58</span><span class="t" style="left:2.00px;top:150.24px;transform:scale(0.2575,0.2750);color:#333;">23 Feb 2023</span><span class="t" style="left:49.70px;top:150.24px;transform:scale(0.2575,0.2750);color:#333;">27 Feb 21:00</span><span class="t" style="left:97.80px;top:150.24px;transform:scale(0.2575,0.2750);color:#333;">1 Mar 21:00</span><span class="t" style="left:146.00px;top:150.24px;transform:scale(0.2575,0.2750);color:#333;">6 Mar 17:00</span><span class="t" style="left:194.20px;top:150.24px;transform:scale(0.2575,0.2750);color:#333;">8 Mar 17:00</span><span class="t" style="left:242.40px;top:150.24px;transform:scale(0.2575,0.2750);color:#333;">10 Mar 17:00</span><span class="t" style="left:290.60px;top:150.24px;transform:scale(0.2575,0.2750);color:#333;">14 Mar 16:00</span><span class="t" style="left:27.80px;top:4.50px;transform:scale(0.2190,0.2700);color:#333;">JD, H1:</span><span class="t" style="left:48.20px;top:4.50px;transform:scale(0.2445,0.2700);color:#333;">JD.COM INC, 15 min delayed</span><span class="t" style="left:117.20px;top:4.50px;transform:scale(0.2688,0.2700);color:#333;">35.76 35.76 35.75 35.76</span><span class="t" style="left:79.80px;top:42.41px;transform:scale(0.3350,0.3250);color:#5c5c5c;">autotrade #5 sell 24 JD at 46.54, profit</span><span class="t" style="left:195.70px;top:42.41px;transform:scale(0.3147,0.3250);color:#8a846c;">24.72,</span><span class="t" style="left:216.20px;top:42.41px;transform:scale(0.2741,0.3250);color:#5c5c5c;">JD</span><span class="t" style="left:79.80px;top:51.51px;transform:scale(0.3237,0.3250);color:#5c5c5c;">46.82</span></div>
<div class="cw" style="left:327.2px;top:285.8px;width:315.59999999999997px;height:158.39999999999998px"><span class="t" style="left:294.60px;top:0.68px;transform:scale(0.2800,0.2800);color:#333;">36.28</span><span class="t" style="left:294.60px;top:48.88px;transform:scale(0.2800,0.2800);color:#333;">35.24</span><span class="t" style="left:294.60px;top:72.88px;transform:scale(0.2800,0.2800);color:#333;">34.72</span><span class="t" style="left:294.60px;top:96.98px;transform:scale(0.2800,0.2800);color:#333;">34.20</span><span class="t" style="left:294.60px;top:120.98px;transform:scale(0.2800,0.2800);color:#333;">33.68</span><span class="t" style="left:294.80px;top:24.98px;transform:scale(0.2800,0.2800);color:#e8fffa;">35.75</span><span class="t" style="left:3.10px;top:150.44px;transform:scale(0.2575,0.2750);color:#333;">21 Apr 2023</span><span class="t" style="left:51.00px;top:150.44px;transform:scale(0.2575,0.2750);color:#333;">25 Apr 17:00</span><span class="t" style="left:98.90px;top:150.44px;transform:scale(0.2575,0.2750);color:#333;">27 Apr 17:00</span><span class="t" style="left:146.80px;top:150.44px;transform:scale(0.2575,0.2750);color:#333;">1 May 17:00</span><span class="t" style="left:194.70px;top:150.44px;transform:scale(0.2575,0.2750);color:#333;">3 May 17:00</span><span class="t" style="left:242.60px;top:150.44px;transform:scale(0.2575,0.2750);color:#333;">5 May 17:00</span><span class="t" style="left:290.50px;top:150.44px;transform:scale(0.2575,0.2750);color:#333;">9 May 17:00</span><span class="t" style="left:27.80px;top:4.50px;transform:scale(0.2190,0.2700);color:#333;">JD, H1:</span><span class="t" style="left:48.20px;top:4.50px;transform:scale(0.2445,0.2700);color:#333;">JD.COM INC, 15 min delayed</span><span class="t" style="left:117.20px;top:4.50px;transform:scale(0.2688,0.2700);color:#333;">35.76 35.76 35.75 35.76</span><span class="t" style="left:90.00px;top:102.21px;transform:scale(0.3350,0.3250);color:#5c5c5c;">autotrade #9 sell 43 JD at 34.33, profit</span><span class="t" style="left:205.70px;top:102.21px;transform:scale(0.3183,0.3250);color:#8a846c;">22.36,</span><span class="t" style="left:225.70px;top:102.21px;transform:scale(0.2864,0.3250);color:#5c5c5c;">JD</span><span class="t" style="left:90.00px;top:111.31px;transform:scale(0.3237,0.3250);color:#5c5c5c;">34.41</span></div>
</body></html>
